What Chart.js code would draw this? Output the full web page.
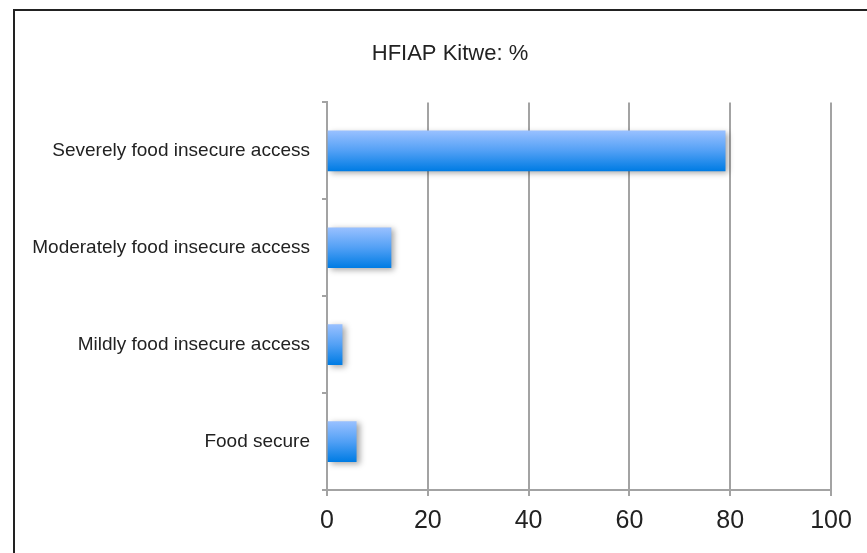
<!DOCTYPE html>
<html>
<head>
<meta charset="utf-8">
<title>HFIAP Kitwe</title>
<script src="https://cdn.jsdelivr.net/npm/chart.js@4.4.0/dist/chart.umd.min.js"></script>
<style>
    html, body { margin:0; padding:0; background:#fff; overflow:hidden; }
    #frame { position:absolute; left:13px; top:9px; width:1000px; height:1000px; border:2px solid #222; }
    #hfiap_chart { position:absolute; left:0; top:0; }
</style>
</head>
<body>
<div id="frame"></div>
<canvas id="hfiap_chart" width="900" height="553"></canvas>
<script>
// HFIAP categories, top to bottom
let categories = [
    "Severely food insecure access",
    "Moderately food insecure access",
    "Mildly food insecure access",
    "Food secure"
];
let percent = [79, 12.7, 3, 5.8];
let xMin = 0;
let xMax = 100;
let xStep = 20;

let font = "'Liberation Sans', Arial, Helvetica, sans-serif";
let gridColor = "#a3a3a3";

// bar gradient, light on top and darker at the bottom
function barFill(context) {
    let chart = context.chart;
    if (!chart.chartArea) return "#4d9df0";
    let yc = chart.scales.y.getPixelForValue(context.dataIndex);
    let g = chart.ctx.createLinearGradient(0, yc - 20, 0, yc + 20);
    g.addColorStop(0, "rgb(152,192,255)");
    g.addColorStop(0.5, "rgb(82,160,245)");
    g.addColorStop(1, "rgb(0,124,228)");
    return g;
}

// soft drop shadow behind the bars
let barShadow = {
    id: "barShadow",
    beforeDatasetsDraw: function(chart) {
        let ctx = chart.ctx;
        ctx.save();
        ctx.shadowColor = "rgba(0,0,0,0.35)";
        ctx.shadowBlur = 6;
        ctx.shadowOffsetX = 3;
        ctx.shadowOffsetY = 2;
    },
    afterDatasetsDraw: function(chart) {
        chart.ctx.restore();
    }
};

// center the title on the whole canvas, not only the padded area
let titleSpan = {
    id: "titleSpan",
    afterLayout: function(chart) {
        let t = chart.titleBlock;
        if (!t) return;
        t.left = 0;
        t.right = chart.width;
        t.width = chart.width;
    }
};

let hfiapChart = new Chart(document.getElementById("hfiap_chart"), {
    type: "bar",
    plugins: [barShadow, titleSpan],
    data: {
        labels: categories,
        datasets: [{
            label: "HFIAP Kitwe: %",
            data: percent,
            backgroundColor: barFill,
            borderWidth: 0,
            barThickness: 40
        }]
    },
    options: {
        responsive: false,
        animation: false,
        indexAxis: "y",
        layout: { padding: { left: 0, right: 69, top: 0, bottom: 0 } },
        plugins: {
            legend: { display: false },
            tooltip: { enabled: false },
            title: {
                display: true,
                text: "HFIAP Kitwe: %",
                color: "#222",
                font: { family: font, size: 22, weight: "normal" },
                padding: { top: 41, bottom: 35 }
            }
        },
        scales: {
            x: {
                min: xMin,
                max: xMax,
                afterFit: function(scale) { scale.height = 63; },
                ticks: {
                    stepSize: xStep,
                    color: "#222",
                    padding: 10,
                    font: { family: font, size: 25 }
                },
                grid: {
                    color: gridColor,
                    lineWidth: 2,
                    tickLength: 6
                },
                border: { color: gridColor, width: 2 }
            },
            y: {
                afterFit: function(scale) { scale.width = 327; },
                ticks: {
                    color: "#222",
                    padding: 12,
                    font: { family: font, size: 19 }
                },
                grid: {
                    drawOnChartArea: false,
                    color: gridColor,
                    lineWidth: 2,
                    tickLength: 5
                },
                border: { color: gridColor, width: 2 }
            }
        }
    }
});
</script>
</body>
</html>
